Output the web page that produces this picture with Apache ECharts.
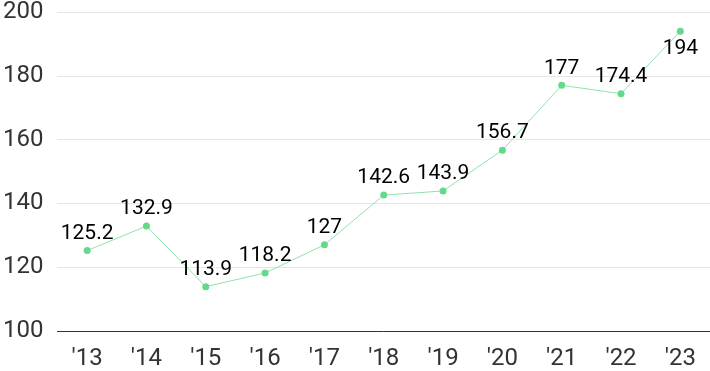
<!DOCTYPE html>
<html><head><meta charset="utf-8">
<script src="https://cdn.jsdelivr.net/npm/echarts@6/dist/echarts.min.js"></script>
<style>html,body{margin:0;padding:0;background:#fff}#c{width:710px;height:371px}</style>
</head><body><div id="c"></div>
<script>
var categories = ["'13","'14","'15","'16","'17","'18","'19","'20","'21","'22","'23"];
var values = [125.2, 132.9, 113.9, 118.2, 127, 142.6, 143.9, 156.7, 177, 174.4, 194];
var yTicks = [100, 120, 140, 160, 180, 200];
var belowIdx = [10];

var chart = echarts.init(document.getElementById('c'), null, {renderer: 'canvas'});
chart.setOption({
  animation: false,
  grid: {left: 56, right: 0, top: 7, bottom: 40},
  xAxis: {
    type: 'category', data: categories, boundaryGap: true,
    axisLine: {lineStyle: {color: '#333', width: 1}},
    axisTick: {show: false},
    axisLabel: {color: '#333', fontSize: 24, fontFamily: 'Roboto', margin: 16}
  },
  yAxis: {
    type: 'value', min: yTicks[0], max: yTicks[yTicks.length-1], interval: 20,
    axisLine: {show: false}, axisTick: {show: false},
    axisLabel: {color: '#333', fontSize: 24, fontFamily: 'Roboto', margin: 14},
    splitLine: {lineStyle: {color: '#e6e6e6', width: 1}}
  },
  series: [{
    type: 'line',
    data: values.map(function(v, i){
      return belowIdx.indexOf(i) >= 0 ? {value: v, label: {position: 'bottom', distance: 4}} : v;
    }),
    symbol: 'circle', symbolSize: 7,
    itemStyle: {color: '#63d98c'},
    lineStyle: {color: '#8ee3aa', width: 1},
    label: {show: true, position: 'top', distance: 3, color: '#000', fontSize: 21, fontFamily: 'Roboto'},
    z: 2
  }]
});
</script></body></html>
